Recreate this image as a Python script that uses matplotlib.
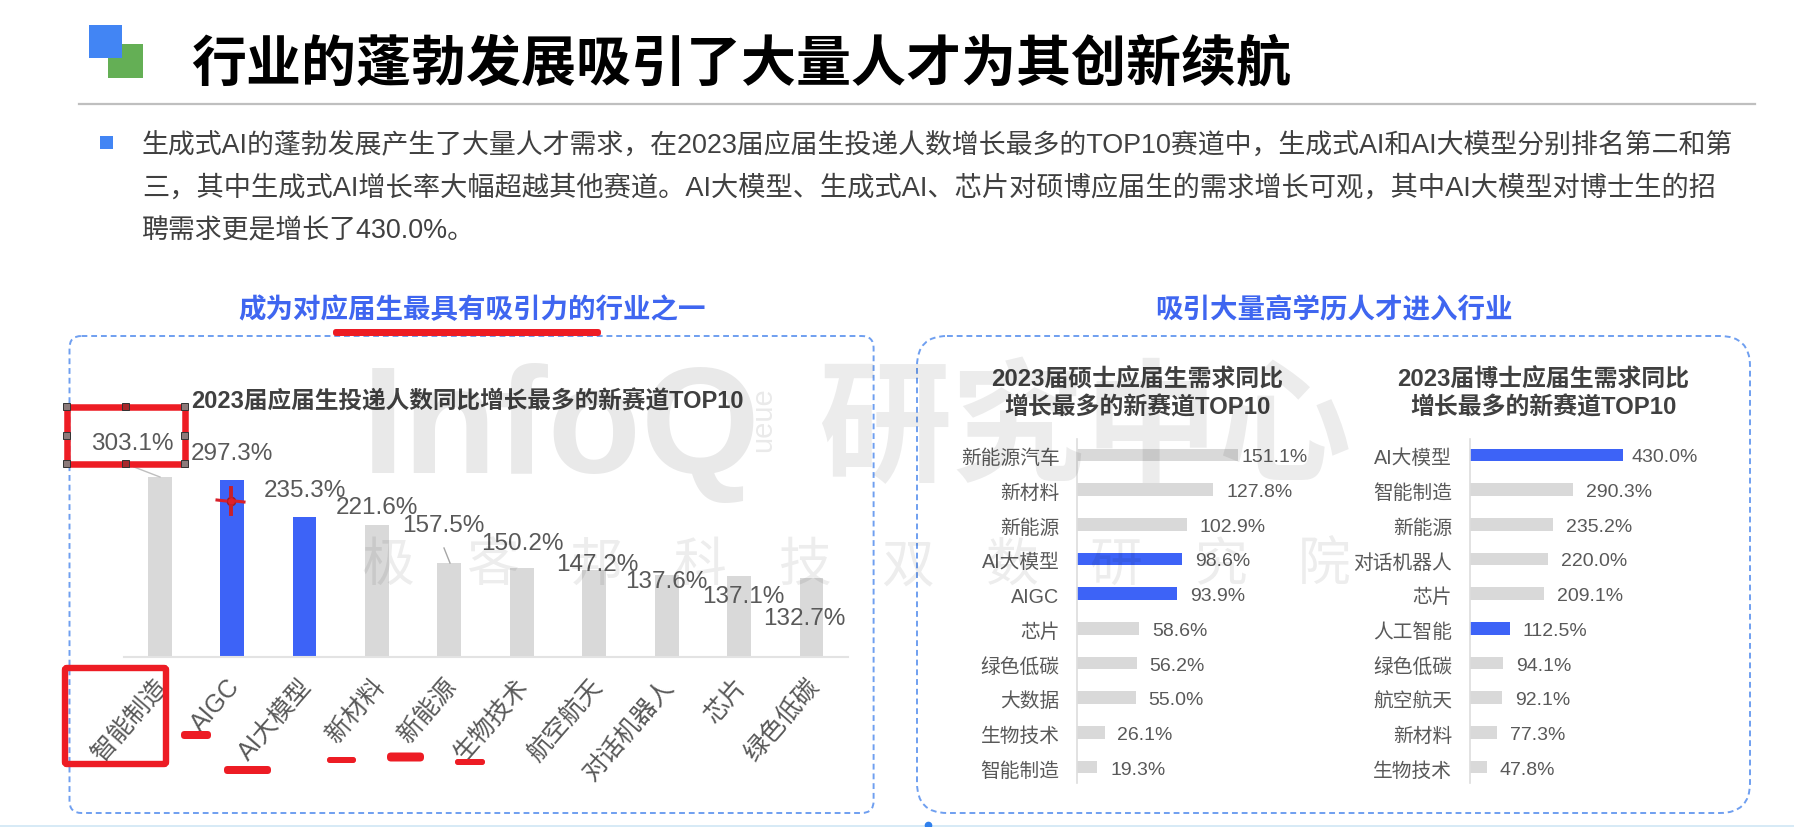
import matplotlib
matplotlib.use("Agg")
import matplotlib.pyplot as plt
from matplotlib.patches import FancyBboxPatch, Rectangle
from matplotlib.transforms import ScaledTranslation

W, H = 1794, 828
FONT = ['Liberation Sans', 'Noto Sans CJK SC', 'DejaVu Sans']
plt.rcParams['font.family'] = FONT

# ---------- data ----------
top_categories = ['智能制造', 'AIGC', 'AI大模型', '新材料', '新能源', '生物技术', '航空航天', '对话机器人', '芯片', '绿色低碳']
top_values = [303.1, 297.3, 235.3, 221.6, 157.5, 150.2, 147.2, 137.6, 137.1, 132.7]
master_categories = ['新能源汽车', '新材料', '新能源', 'AI大模型', 'AIGC', '芯片', '绿色低碳', '大数据', '生物技术', '智能制造']
master_values = [151.1, 127.8, 102.9, 98.6, 93.9, 58.6, 56.2, 55.0, 26.1, 19.3]
phd_categories = ['AI大模型', '智能制造', '新能源', '对话机器人', '芯片', '人工智能', '绿色低碳', '航空航天', '新材料', '生物技术']
phd_values = [430.0, 290.3, 235.2, 220.0, 209.1, 112.5, 94.1, 92.1, 77.3, 47.8]
highlight = {'AIGC', 'AI大模型', '人工智能'}

# label offsets in px from the bar top (dx right, dy up)
top_label_dx = [-27, 0, 0, 0, -6, 1, 3, 0, 4, -7]
top_label_dy = [34, 27, 27, 18, 38, 25, 6, -6, -20, -40]

BLUE = '#3D63F7'
GRAY = '#D9D9D9'
TXT = '#595959'
RED = '#ED1C24'
PT = 0.72

fig = plt.figure(figsize=(W / 100, H / 100), dpi=100, facecolor='white')


def px_axes(left, top, right, bottom, **kw):
    return fig.add_axes([left / W, 1 - bottom / H, (right - left) / W, (bottom - top) / H], **kw)


def colors(cats):
    return [BLUE if c in highlight else GRAY for c in cats]


def shift(dx_px, dy_px):
    # offset in pixels, dy positive = down
    return ScaledTranslation(dx_px / 100, -dy_px / 100, fig.dpi_scale_trans)


# ---------- column chart ----------
ax = px_axes(123.5, 450, 847.7, 658)
ax.patch.set_alpha(0)
ax.bar(range(10), top_values, width=0.33, color=colors(top_categories))
ax.set_xlim(-0.5, 9.5)
ax.set_ylim(0, 350)
ax.set_yticks([])
for s in ['top', 'left', 'right']:
    ax.spines[s].set_visible(False)
ax.spines['bottom'].set_color('#E3E3E3')
ax.spines['bottom'].set_linewidth(1.5)
ax.set_xticks(range(10))
ax.set_xticklabels(top_categories, rotation=49, ha='right', va='center', rotation_mode='anchor',
                   fontsize=18, color=TXT)
ax.tick_params(axis='x', length=0, pad=20)
for lab in ax.get_xticklabels():
    lab.set_transform(lab.get_transform() + shift(3, -3))
for i, v in enumerate(top_values):
    ax.annotate(f'{v:.1f}%', xy=(i, v), xytext=(top_label_dx[i] * PT, top_label_dy[i] * PT),
                textcoords='offset points', ha='center', va='center', fontsize=17.5, color=TXT,
                annotation_clip=False)


# ---------- horizontal charts ----------
def hbars(left, right, cats, vals, xmax, gap_over):
    a = px_axes(left, 440, right, 784)
    a.patch.set_alpha(0)
    a.barh(range(10), vals, height=0.37, color=colors(cats))
    a.set_ylim(9.46, -0.46)
    a.set_xlim(0, xmax)
    a.set_xticks([])
    for s in ['top', 'right', 'bottom']:
        a.spines[s].set_visible(False)
    a.spines['left'].set_color('#DDDDDD')
    a.spines['left'].set_linewidth(1.2)
    a.set_yticks(range(10))
    a.set_yticklabels(cats, fontsize=14.2, color=TXT)
    a.tick_params(axis='y', length=0, pad=12.5)
    for lab in a.get_yticklabels():
        lab.set_transform(lab.get_transform() + shift(0, 1))
    for i, v in enumerate(vals):
        a.annotate(f'{v:.1f}%', xy=(v, i), xytext=(gap_over.get(i, 12.8) * PT, -2 * PT), textcoords='offset points',
                   ha='left', va='center', fontsize=14, color=TXT, annotation_clip=False)


hbars(1076.8, 1290, master_categories, master_values, 213.2 / 1.068, {0: 3})
hbars(1469.5, 1700, phd_categories, phd_values, 230.5 / 0.3565, {0: 9})

# ---------- page furniture, watermark, mark-up (pixel coordinates) ----------
ov = fig.add_axes([0, 0, 1, 1], zorder=5)
ov.set_xlim(0, W)
ov.set_ylim(H, 0)
ov.axis('off')
ov.patch.set_alpha(0)

ov.add_patch(Rectangle((108, 45), 35, 34, color='#64AF55', lw=0))
ov.add_patch(Rectangle((89, 26), 33, 33, color='#4285F4', lw=0))
ov.text(191, 66, '行业的蓬勃发展吸引了大量人才为其创新续航', fontsize=39.6, fontweight='bold', color='black',
        ha='left', va='center')
ov.plot([79, 1755], [105, 105], color='#BFBFBF', lw=1.6)
ov.add_patch(Rectangle((100, 137), 13, 13, color='#4285F4', lw=0))
body = ['生成式AI的蓬勃发展产生了大量人才需求，在2023届应届生投递人数增长最多的TOP10赛道中，生成式AI和AI大模型分别排名第二和第',
        '三，其中生成式AI增长率大幅超越其他赛道。AI大模型、生成式AI、芯片对硕博应届生的需求增长可观，其中AI大模型对博士生的招',
        '聘需求更是增长了430.0%。']
for t, y, fs in zip(body, [146, 188, 231], [19.4, 19.6, 19.4]):
    ov.text(142, y, t, fontsize=fs, color='#404040', ha='left', va='center')

ov.text(472, 311, '成为对应届生最具有吸引力的行业之一', fontsize=19.8, color='#3F66F0', fontweight='bold',
        ha='center', va='center')
ov.text(1334, 311, '吸引大量高学历人才进入行业', fontsize=19.8, color='#3F66F0', fontweight='bold',
        ha='center', va='center')
for (x0, x1, r) in [(69.5, 873.6, 12), (917, 1750, 30)]:
    ov.add_patch(FancyBboxPatch((x0, 337), x1 - x0, 477, boxstyle=f'round,pad=0,rounding_size={r}', fill=False,
                                ec='#6F9FF0', lw=1.4, ls=(0, (3, 2))))

ov.text(191, 402, '2023届应届生投递人数同比增长最多的新赛道TOP10', fontsize=17, fontweight='bold', color='#404040',
        ha='left', va='center')
ov.text(1137.6, 394, '2023届硕士应届生需求同比\n增长最多的新赛道TOP10', fontsize=17.2, fontweight='bold', color='#404040',
        ha='center', va='center', linespacing=1.22)
ov.text(1543.5, 394, '2023届博士应届生需求同比\n增长最多的新赛道TOP10', fontsize=17.2, fontweight='bold', color='#404040',
        ha='center', va='center', linespacing=1.22)

# watermark
WM = dict(color='black', alpha=0.085, zorder=6)
ov.text(362, 473, 'InfoQ', fontsize=110, fontweight='bold', ha='left', va='baseline', **WM)
ov.text(763, 420, 'ueue', fontsize=21, rotation=90, ha='center', va='center', **WM)
ov.text(1085, 435, '研究中心', fontsize=96, fontweight='bold', ha='center', va='center', color='black', alpha=0.075, zorder=6)
for i, ch in enumerate('极客邦科技双数研究院'):
    ov.text(388 + i * 104, 567, ch, fontsize=38, ha='center', va='center', color='black', alpha=0.07, zorder=6)

# red mark-up
ov.plot([134, 160], [468, 478], color='#BFBFBF', lw=1)
ov.plot([444, 450], [549, 564], color='#A6A6A6', lw=1)
ov.add_patch(Rectangle((66.5, 407.5), 118, 57, fill=False, ec=RED, lw=4.7, zorder=8))
for hx in [66, 125.5, 184.5]:
    for hy in [407.5, 436, 464.5]:
        if hx == 125.5 and hy == 436:
            continue
        face = '#A8282C' if hx == 125.5 else '#8C7A7A'
        ov.add_patch(Rectangle((hx - 3.5, hy - 3.5), 7, 7, fc=face, ec='#333333', lw=0.7, zorder=9))
ov.add_patch(FancyBboxPatch((65, 669), 101, 96, boxstyle='round,pad=0,rounding_size=2', fill=False, ec=RED, lw=4.6, zorder=8))
for x0, x1, y, h in [(333, 601, 333.5, 7), (181, 211, 736, 8), (224, 271, 771, 8), (327, 356, 761, 6),
                     (387, 424, 758, 9), (455, 485, 763, 6)]:
    ov.add_patch(FancyBboxPatch((x0, y - h / 2), x1 - x0, h, boxstyle=f'round,pad=0,rounding_size={h / 2.2}',
                                fc=RED, ec='none', zorder=8))
ov.plot([230.7], [502], 'o', color='#E0202A', mec='#9C1C24', ms=6, zorder=9)
ov.plot([217, 226], [501, 502], color='#D8202A', lw=2.2, zorder=9)
ov.plot([235, 244], [502, 503], color='#D8202A', lw=2.2, zorder=9)
ov.plot([231, 231], [489, 497], color='#C8202A', lw=2.8, zorder=9)
ov.plot([231, 231], [507, 515], color='#C8202A', lw=2.8, zorder=9)

# bottom edge
ov.plot([0, W], [827, 827], color='#CFE6F5', lw=1.2)
ov.plot([928], [826], 'o', color='#2F80ED', ms=4.5, clip_on=True)

fig.savefig('out.png', dpi=100, facecolor='white')
